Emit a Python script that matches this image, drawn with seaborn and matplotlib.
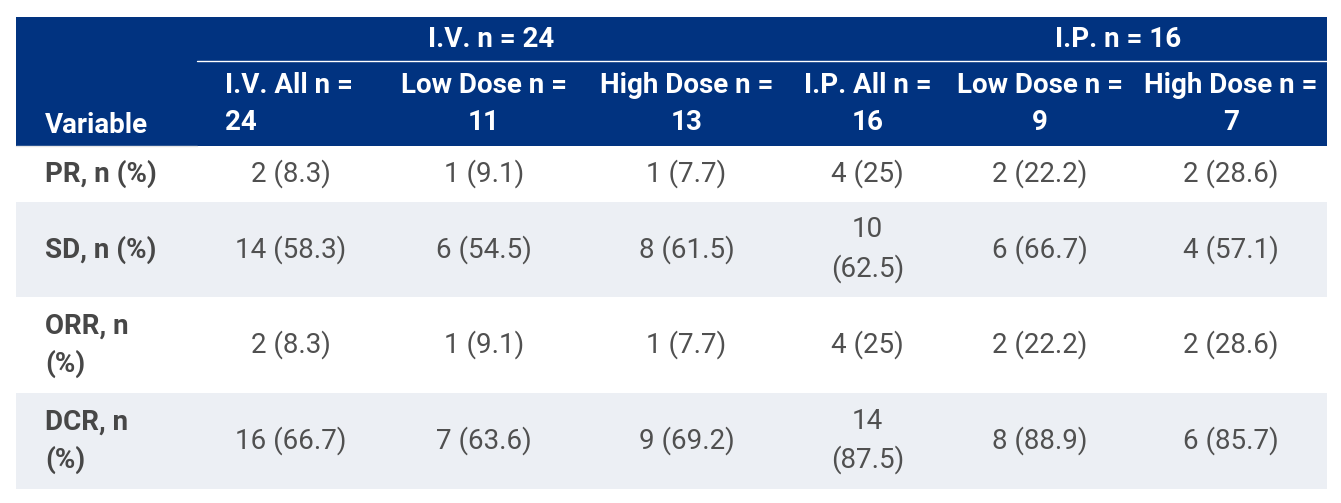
import matplotlib.pyplot as plt
import seaborn as sns

sns.set_style('white')
plt.rcParams['font.family'] = ['Roboto', 'DejaVu Sans']

# data
groups = ['I.V. n = 24', 'I.P. n = 16']
columns = ['I.V. All n =\n24', 'Low Dose n =\n11', 'High Dose n =\n13',
           'I.P. All n =\n16', 'Low Dose n =\n9', 'High Dose n =\n7']
variables = ['PR, n (%)', 'SD, n (%)', 'ORR, n\n(%)', 'DCR, n\n(%)']
pr = ['2 (8.3)', '1 (9.1)', '1 (7.7)', '4 (25)', '2 (22.2)', '2 (28.6)']
sd = ['14 (58.3)', '6 (54.5)', '8 (61.5)', '10\n(62.5)', '6 (66.7)', '4 (57.1)']
orr = ['2 (8.3)', '1 (9.1)', '1 (7.7)', '4 (25)', '2 (22.2)', '2 (28.6)']
dcr = ['16 (66.7)', '7 (63.6)', '9 (69.2)', '14\n(87.5)', '8 (88.9)', '6 (85.7)']
rows = [pr, sd, orr, dcr]

# layout in pixels
navy = '#013380'
band = '#eceff4'
lab = '#474747'
txt = '#505050'
col_edges = [16, 197, 385, 583, 790, 945, 1135, 1327]
row_edges = [146, 202, 297, 393, 489]
group_x = [491, 1118]
hfs = 20
bfs = 20

fig = plt.figure(figsize=(13.41, 5.03), dpi=100)
ax = fig.add_axes([0, 0, 1, 1])
ax.set_xlim(0, 1341)
ax.set_ylim(503, 0)
ax.axis('off')

# header
ax.add_patch(plt.Rectangle((16, 17), 1311, 129, color=navy, lw=0))
ax.plot([197, 1327], [61, 61], color='white', lw=1)
ax.plot([16, 197], [146, 146], color='#e6e6e6', lw=1)
for g, x in zip(groups, group_x):
    ax.text(x, 39, g, color='white', fontsize=hfs, fontweight='bold',
            ha='center', va='center')
ax.text(45, 125, 'Variable', color='white', fontsize=hfs, fontweight='bold',
        ha='left', va='center')
for i, c in enumerate(columns):
    xc = (col_edges[i + 1] + col_edges[i + 2]) / 2
    if i == 0:
        ax.text(225, 104, c, color='white', fontsize=hfs, fontweight='bold',
                ha='left', va='center', linespacing=1.52,
                multialignment='left')
    else:
        ax.text(xc, 104, c, color='white', fontsize=hfs, fontweight='bold',
                ha='center', va='center', linespacing=1.52)

# body
for r, (var, vals) in enumerate(zip(variables, rows)):
    y0, y1 = row_edges[r], row_edges[r + 1]
    if r % 2 == 1:
        ax.add_patch(plt.Rectangle((16, y0), 1311, y1 - y0, color=band, lw=0))
    yc = (y0 + y1) / 2
    ax.text(45, yc, var, color=lab, fontsize=bfs, fontweight='bold',
            ha='left', va='center', linespacing=1.47)
    for i, v in enumerate(vals):
        xc = (col_edges[i + 1] + col_edges[i + 2]) / 2
        ax.text(xc, yc, v, color=txt, fontsize=bfs, ha='center',
                va='center', linespacing=1.47)

fig.savefig('out.png', dpi=100)
